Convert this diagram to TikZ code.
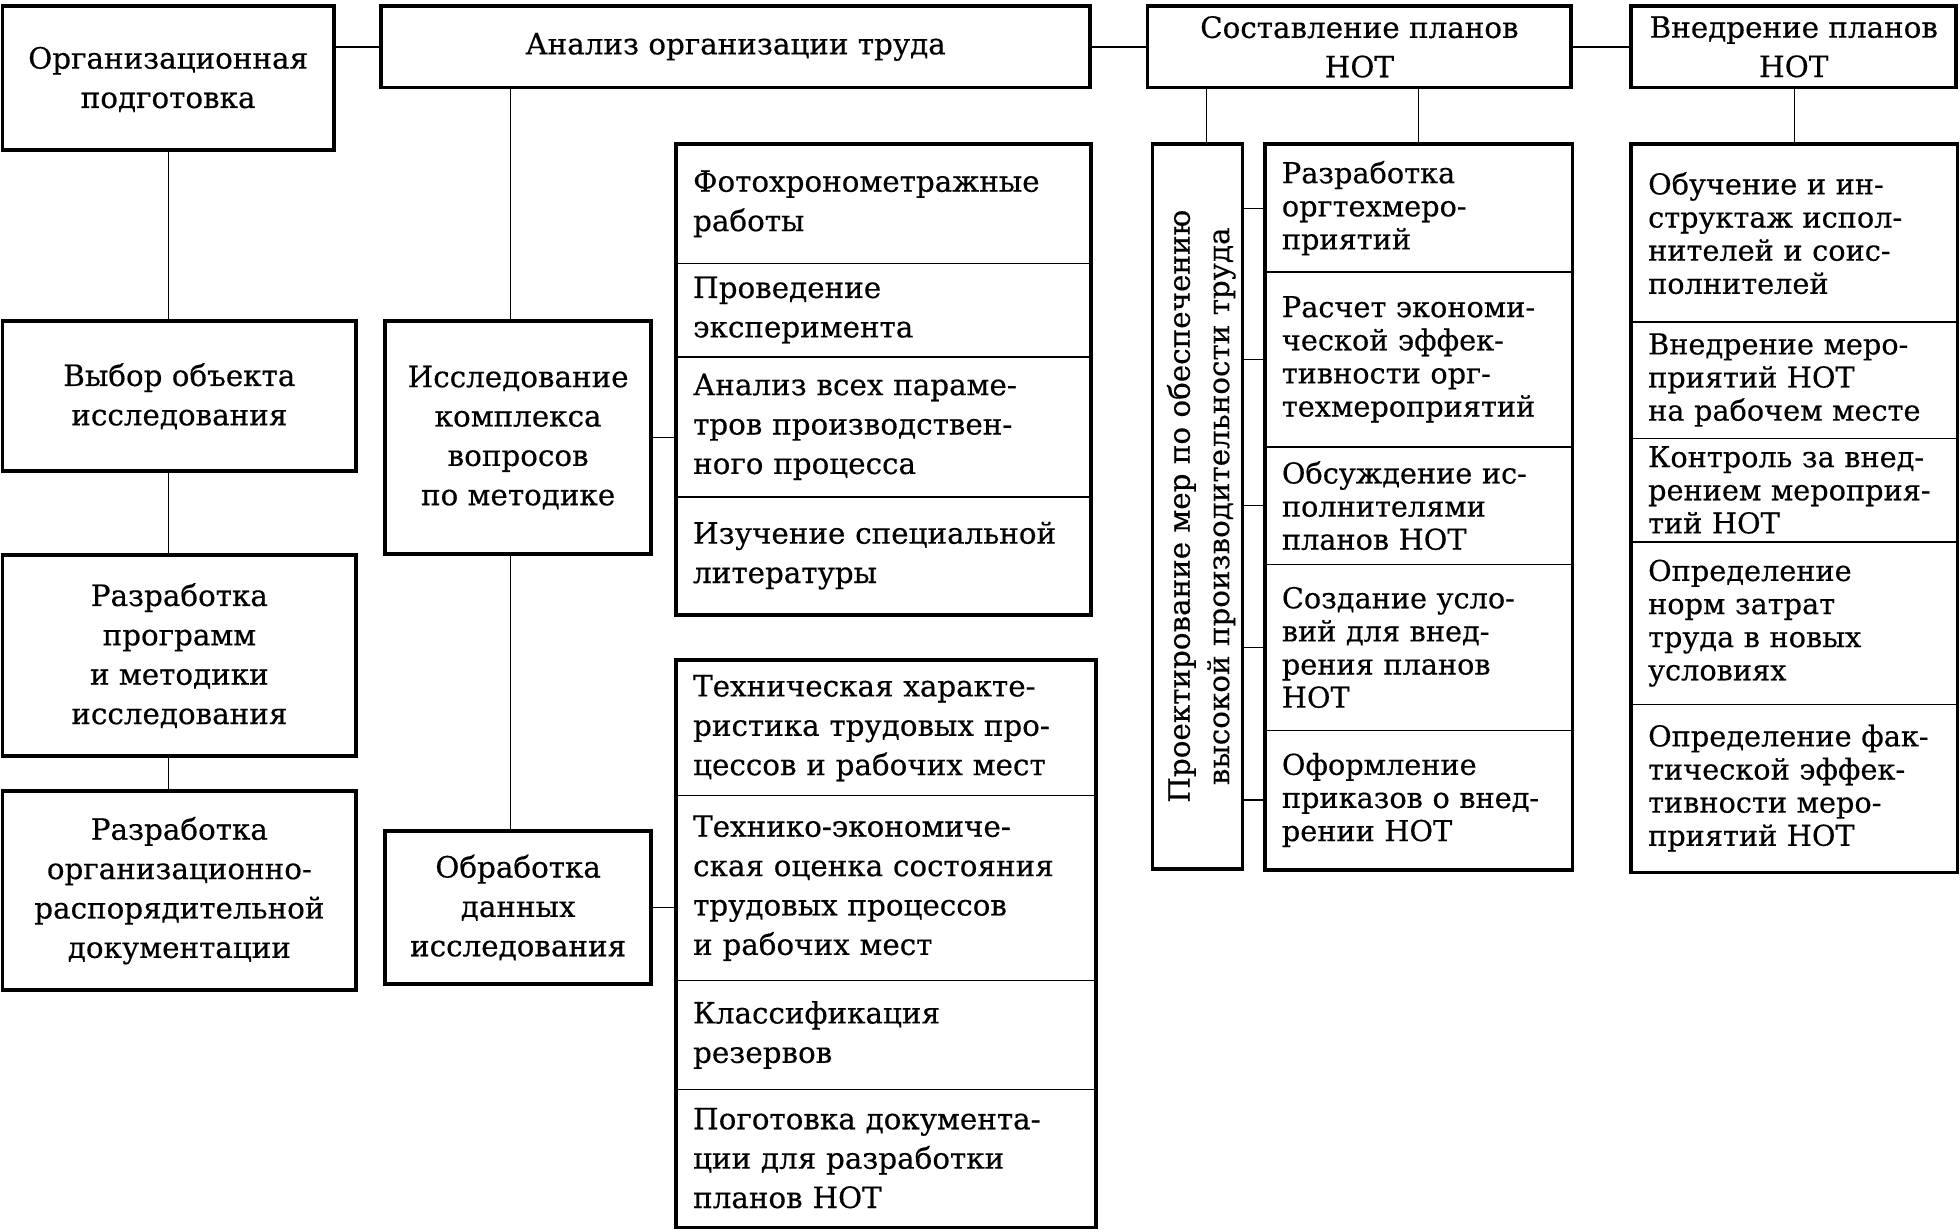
\documentclass[tikz,border=0pt]{standalone}
\usepackage{fontspec}
\setmainfont{DejaVu Serif}[FakeBold=0.4]
\newcommand{\bigtxt}{\fontsize{23.5}{31.5}\selectfont}
\newcommand{\smltxt}{\fontsize{23}{26.5}\selectfont}
\tikzset{
  box/.style={draw, line width=3pt, align=center, inner sep=0pt, font=\bigtxt},
  cell/.style={draw, line width=1pt, align=left, anchor=north west, inner xsep=13pt, inner ysep=0pt, font=\bigtxt},
  frame/.style={line width=3pt},
  link/.style={line width=1pt},
}
\begin{document}
\begin{tikzpicture}[x=1pt, y=-1pt]
        \useasboundingbox (0,0) rectangle (1568,985);
        \node[box, minimum width=265, minimum height=115] (org) at (134.5,62.5) {\\[-12pt]Организационная\\подготовка};
        \node[box, minimum width=567, minimum height=65] (anal) at (588.5,37.5) {Анализ организации труда};
        \node[box, minimum width=339, minimum height=65] (sost) at (1087.5,37.5) {Составление планов\\НОТ};
        \node[box, minimum width=260, minimum height=65] (vnedr) at (1435,37.5) {Внедрение планов\\НОТ};
        \node[box, minimum width=283, minimum height=120] (vybor) at (143.5,317) {Выбор объекта\\исследования};
        \node[box, minimum width=283, minimum height=161] (prog) at (143.5,524.5) {Разработка\\программ\\и методики\\исследования};
        \node[box, minimum width=283, minimum height=159] (dok) at (143.5,712.5) {Разработка\\организационно-\\распорядительной\\документации};
        \node[box, minimum width=213, minimum height=186] (issl) at (414.5,350) {Исследование\\комплекса\\вопросов\\по методике};
        \node[box, minimum width=213, minimum height=122] (obr) at (414.5,726) {Обработка\\данных\\исследования};
        \node[cell, text width=305, minimum height=95] (f1) at (541,115) {Фотохронометражные\\работы};
        \node[cell, text width=305, minimum height=75] (f2) at (541,210) {Проведение\\эксперимента};
        \node[cell, text width=305, minimum height=112] (f3) at (541,285) {Анализ всех параме-\\тров производствен-\\ного процесса};
        \node[cell, text width=305, minimum height=94] (f4) at (541,397) {Изучение специальной\\литературы};
        \draw[frame] (f1.north west) rectangle (f4.south east);
        \node[cell, text width=309, minimum height=108] (t1) at (541,528) {Техническая характе-\\ристика трудовых про-\\цессов и рабочих мест};
        \node[cell, text width=309, minimum height=148] (t2) at (541,636) {Технико-экономиче-\\ская оценка состояния\\трудовых процессов\\и рабочих мест};
        \node[cell, text width=309, minimum height=87] (t3) at (541,784) {Классификация\\резервов};
        \node[cell, text width=309, minimum height=110] (t4) at (541,871) {Поготовка документа-\\ции для разработки\\планов НОТ};
        \draw[frame] (t1.north west) rectangle (t4.south east);
        \node[box, minimum width=72, minimum height=580] (proj) at (958,405) {};
        \node[rotate=90, align=center, font=\bigtxt, inner sep=0pt] (projtxt) at ([xshift=3]proj.center) {Проектирование мер по обеспечению\\высокой производительности труда};
        \node[cell, font=\smltxt, text width=219, minimum height=102] (r1) at (1012,115) {Разработка\\оргтехмеро-\\приятий};
        \node[cell, font=\smltxt, text width=219, minimum height=140] (r2) at (1012,217) {Расчет экономи-\\ческой эффек-\\тивности орг-\\техмероприятий};
        \node[cell, font=\smltxt, text width=219, minimum height=94] (r3) at (1012,357) {Обсуждение ис-\\полнителями\\планов НОТ};
        \node[cell, font=\smltxt, text width=219, minimum height=133] (r4) at (1012,451) {Создание усло-\\вий для внед-\\рения планов\\НОТ};
        \node[cell, font=\smltxt, text width=219, minimum height=111] (r5) at (1012,584) {Оформление\\приказов о внед-\\рении НОТ};
        \draw[frame] (r1.north west) rectangle (r5.south east);
        \node[cell, font=\smltxt, text width=234, minimum height=142] (v1) at (1305,115) {Обучение и ин-\\структаж испол-\\нителей и соис-\\полнителей};
        \node[cell, font=\smltxt, text width=234, minimum height=93] (v2) at (1305,257) {Внедрение меро-\\приятий НОТ\\на рабочем месте};
        \node[cell, font=\smltxt, text width=234, minimum height=83] (v3) at (1305,350) {Контроль за внед-\\рением мероприя-\\тий НОТ};
        \node[cell, font=\smltxt, text width=234, minimum height=130] (v4) at (1305,433) {Определение\\норм затрат\\труда в новых\\условиях};
        \node[cell, font=\smltxt, text width=234, minimum height=134] (v5) at (1305,563) {Определение фак-\\тической эффек-\\тивности меро-\\приятий НОТ\\[14pt]};
        \draw[frame] (v1.north west) rectangle (v5.south east);
        \draw[link] (anal.west -| org.east) -- (anal.west);
        \draw[link] (anal.east) -- (sost.west);
        \draw[link] (sost.east) -- (vnedr.west);
        \draw[link] (org.south) -- (vybor.north -| org.south);
        \draw[link] (vybor.south -| org.south) -- (prog.north -| org.south);
        \draw[link] (prog.south -| org.south) -- (dok.north -| org.south);
        \draw[link] ([xshift=-6]issl.north) -- ([xshift=-6]issl.north |- anal.south);
        \draw[link] ([xshift=-6]issl.south) -- ([xshift=-6]obr.north);
        \draw[link] (issl.east) -- (issl.east -| f1.west);
        \draw[link] (obr.east) -- (obr.east -| t1.west);
        \draw[link] ([xshift=7]proj.north) -- ([xshift=7]proj.north |- sost.south);
        \draw[link] (r1.north) -- (r1.north |- sost.south);
        \draw[link] (v1.north) -- (v1.north |- vnedr.south);
        \foreach \c in {r1,r2,r3,r4,r5}
          \draw[link] (\c.west) -- (\c.west -| proj.east);
      \end{tikzpicture}
\end{document}
